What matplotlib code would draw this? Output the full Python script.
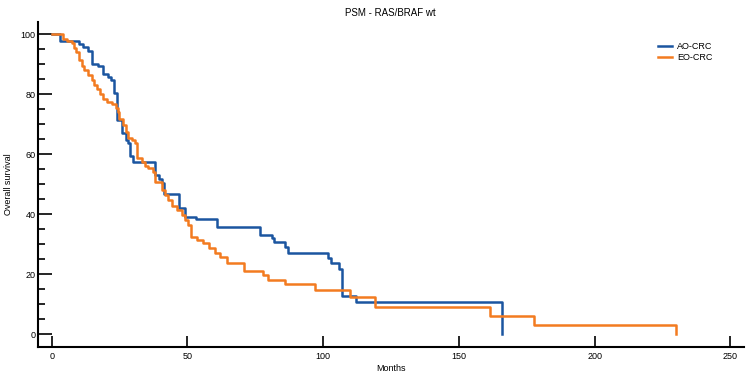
import numpy as np
import matplotlib.pyplot as plt
from matplotlib.ticker import MultipleLocator

plt.rcParams["font.family"] = ["Liberation Sans", "DejaVu Sans"]

# =====================================================
# Kaplan-Meier step data
# =====================================================
ao_months = [0, 3.0, 10.2, 11.6, 13.2, 15.0, 17.2, 19.0, 20.8, 21.8, 22.9,
             24.2, 25.8, 27.2, 28.0, 28.8, 29.8, 38.0, 39.6, 40.8, 41.5,
             47.0, 49.1, 53.1, 60.9, 76.9, 81.0, 82.0, 85.9, 87.1, 101.8,
             102.8, 105.9, 106.8, 112.0, 165.9]
ao_surv = [100, 97.8, 96.7, 95.7, 94.3, 89.9, 89.2, 86.6, 85.8, 84.7, 80.2,
           71.3, 66.9, 64.7, 63.6, 59.5, 57.2, 53.0, 51.6, 50.4, 46.7,
           41.9, 39.1, 38.2, 35.8, 33.0, 31.9, 30.8, 29.1, 27.1, 25.2,
           23.6, 21.6, 12.7, 10.8, 0]

eo_months = [0, 4.0, 5.7, 7.4, 8.3, 9.0, 10.2, 11.0, 12.0, 13.5, 14.7, 15.7,
             16.8, 17.8, 19.0, 20.2, 22.1, 23.7, 24.3, 24.8, 26.1, 27.4,
             28.2, 29.5, 30.7, 31.3, 33.1, 34.4, 35.6, 37.4, 38.0, 40.5,
             41.7, 42.9, 44.2, 46.0, 47.9, 49.1, 50.3, 51.5, 53.4, 55.8,
             58.0, 60.1, 62.0, 64.4, 70.8, 77.9, 79.8, 85.9, 96.9, 109.8,
             119.0, 161.4, 177.6, 229.8]
eo_surv = [100, 98.3, 97.7, 96.9, 95.4, 94.1, 91.3, 89.4, 88.0, 86.3, 84.7,
           83.0, 81.6, 79.9, 78.3, 77.2, 76.7, 75.4, 73.9, 71.7, 69.7, 67.4,
           65.2, 64.7, 63.6, 58.6, 57.4, 56.1, 55.2, 54.1, 50.8, 48.0,
           46.3, 44.7, 42.7, 41.3, 39.7, 38.0, 36.3, 32.4, 31.3, 30.2,
           28.6, 27.1, 25.8, 23.6, 21.1, 19.7, 18.0, 16.7, 14.7, 12.2,
           9.1, 6.0, 3.0, 0]

labels = ["AO-CRC", "EO-CRC"]
colors = ["#1B55A0", "#F37B20"]

# =====================================================
# Figure
# =====================================================
fig = plt.figure(figsize=(7.47, 3.75), dpi=100)
ax = fig.add_axes([0.051, 0.0755, 0.945, 0.8665])

ax.step(ao_months, ao_surv, where="post", color=colors[0], lw=1.8, label=labels[0])
ax.step(eo_months, eo_surv, where="post", color=colors[1], lw=1.8, label=labels[1])

ax.set_xlim(-5, 255)
ax.set_ylim(-4.2, 104.1)
ax.xaxis.set_major_locator(MultipleLocator(50))
ax.yaxis.set_major_locator(MultipleLocator(20))
ax.yaxis.set_minor_locator(MultipleLocator(5))

for side in ["top", "right"]:
    ax.spines[side].set_visible(False)
for side in ["left", "bottom"]:
    ax.spines[side].set_linewidth(1.5)

ax.tick_params(axis="y", which="major", direction="in", length=10, width=1.2,
               labelsize=6.5, pad=2)
ax.tick_params(axis="y", which="minor", direction="in", length=5, width=1.2)
ax.tick_params(axis="x", which="major", direction="in", length=8, width=1.2,
               labelsize=6.5, pad=4)

ax.set_xlabel("Months", fontsize=6.5, labelpad=2)
ax.set_ylabel("Overall survival", fontsize=6.5)
ax.yaxis.set_label_coords(-0.036, 0.5)
fig.text(0.523, 0.965, "PSM - RAS/BRAF wt", ha="center", va="center", fontsize=7)

ax.legend(loc="upper left", bbox_to_anchor=(658 / 747, 1 - 42 / 375),
          bbox_transform=fig.transFigure, frameon=False, fontsize=6.5,
          handlelength=1.5, handletextpad=0.6, labelspacing=0.25,
          borderpad=0, borderaxespad=0)

fig.savefig("out.png", dpi=100)
